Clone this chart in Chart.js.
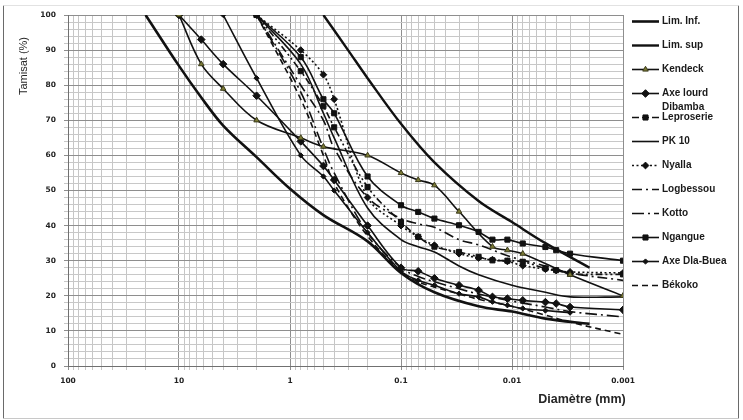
<!DOCTYPE html>
<html><head><meta charset="utf-8">
<script src="https://cdn.jsdelivr.net/npm/chart.js@4/dist/chart.umd.min.js"></script>
<style>html,body{margin:0;padding:0;background:#fff;}canvas{display:block}</style>
</head><body>
<canvas id="c" width="743" height="420"></canvas>
<script>
// ---- tick values ----
const xTickValues = [0.001,0.002,0.003,0.004,0.005,0.006,0.007,0.008,0.009,
  0.01,0.02,0.03,0.04,0.05,0.06,0.07,0.08,0.09,
  0.1,0.2,0.3,0.4,0.5,0.6,0.7,0.8,0.9,
  1,2,3,4,5,6,7,8,9,
  10,20,30,40,50,60,70,80,90,100];
const xLabelValues = [100,10,1,0.1,0.01,0.001];
const xLabelTexts = ['100','10','1','0.1','0.01','0.001'];
const yTickValues = [0,2,4,6,8,10,12,14,16,18,20,22,24,26,28,30,32,34,36,38,40,42,44,46,48,50,
  52,54,56,58,60,62,64,66,68,70,72,74,76,78,80,82,84,86,88,90,92,94,96,98,100];

// ---- series (diameter mm / % passing) ----
const limInfD = [20,10,6.3,4,2,1,0.5,0.2,0.1,0.05,0.02,0.01,0.005,0.002];
const limInfP = [100,85.5,76.5,68.5,59.5,50.5,43,35.5,26.5,21,17,15.5,13.5,12];

const limSupD = [0.5,0.3,0.2,0.1,0.05,0.02,0.01,0.005,0.002];
const limSupP = [100,90,82,69,58,47,41,35,28];

const kendeckD = [10,6.3,4,2,0.8,0.5,0.2,0.1,0.07,0.05,0.03,0.015,0.011,0.008,0.003,0.001];
const kendeckP = [100,86,79,70,65,62.5,60,55,53,51.5,44,34,33,32,26,20];

const dibambaD = [10,6.3,4,2,0.8,0.5,0.4,0.2,0.1,0.07,0.05,0.03,0.02,0.015,0.011,0.008,0.005,0.004,0.003,0.001];
const dibambaP = [100,93,86,77,64,57,53,40,28,27,25,23,21.6,19.7,19.2,18.7,18.2,17.8,16.8,16];

const leproD = [2,0.8,0.5,0.4,0.2,0.1,0.07,0.05,0.03,0.02,0.015,0.011,0.008,0.005,0.004,0.003,0.001];
const leproP = [100,84,74,68,51,41,36.8,34,32.5,31.1,30.1,30,29.7,27.8,27.3,26.3,26.1];

const pk10D = [2,0.8,0.5,0.4,0.2,0.1,0.07,0.05,0.03,0.02,0.01,0.005,0.003,0.001];
const pk10P = [100,86,72,65,45,36,34,32.5,28.5,26,23,21,19.7,19.7];

const nyallaD = [2,0.8,0.5,0.4,0.2,0.1,0.07,0.05,0.03,0.02,0.015,0.011,0.008,0.005,0.004,0.003,0.001];
const nyallaP = [100,90,83,76,48,40,36.8,34.4,32,30.8,30.3,29.8,28.6,27.6,27.2,26.8,26.5];

const logbessouD = [2,0.8,0.5,0.4,0.2,0.1,0.07,0.05,0.03,0.02,0.01,0.005,0.003,0.001];
const logbessouP = [100,80,70,62,48,42,40.5,39.5,36,34.5,31,28.5,26.5,24.4];

const kottoD = [2,0.8,0.5,0.4,0.2,0.1,0.07,0.05,0.03,0.02,0.01,0.005,0.003,0.001];
const kottoP = [100,78,62,55,38,28,25.5,24,22,20.5,18.5,16.8,15.5,14];

const ngangueD = [2,0.8,0.5,0.4,0.2,0.1,0.07,0.05,0.03,0.02,0.015,0.011,0.008,0.005,0.004,0.003,0.001];
const ngangueP = [100,88,76,72,54,45.8,43.9,42,40.1,38.2,36,36,34.9,33.9,33,32,30];

const axeDlaD = [4,2,0.8,0.5,0.4,0.2,0.1,0.07,0.05,0.03,0.02,0.015,0.011,0.008,0.005,0.003];
const axeDlaP = [100,82,60,54,50,38,27,24.4,23,20.6,19.7,18.3,17.3,16.4,15.8,15.2];

const bekokoD = [2,0.8,0.5,0.4,0.2,0.1,0.07,0.05,0.03,0.02,0.01,0.005,0.003,0.001];
const bekokoP = [100,76,60,52,37,27,24,22.5,20.5,19,17,14.5,12.5,9];

function pts(d, p){ return d.map((v,i)=>({x:v, y:p[i]})); }
const INK = '#111';
function ds(label, d, p, extra){
  return Object.assign({label, data: pts(d,p), borderColor: INK, backgroundColor: INK,
    pointBorderColor: INK, pointBackgroundColor: INK, borderWidth: 1.6, pointRadius: 0,
    pointBorderWidth: 1, fill: false, tension: 0.35}, extra||{});
}
const datasets = [
  ds('Lim. Inf.', limInfD, limInfP, {borderWidth: 2.6}),
  ds('Lim. sup', limSupD, limSupP, {borderWidth: 2.4}),
  ds('Kendeck', kendeckD, kendeckP, {pointStyle:'triangle', pointRadius:3.2, pointBackgroundColor:'#7b7a35', pointBorderColor:'#3a3a1a'}),
  ds('Axe lourd\nDibamba', dibambaD, dibambaP, {pointStyle:'rectRot', pointRadius:3.8}),
  ds('Leproserie', leproD, leproP, {pointStyle:'rect', pointRadius:3.6, borderDash:[7,3,2,3,2,3]}),
  ds('PK 10', pk10D, pk10P, {}),
  ds('Nyalla', nyallaD, nyallaP, {pointStyle:'rectRot', pointRadius:3.4, borderDash:[2,2.5]}),
  ds('Logbessou', logbessouD, logbessouP, {borderDash:[10,4,2,4]}),
  ds('Kotto', kottoD, kottoP, {borderDash:[12,4,2,4]}),
  ds('Ngangue', ngangueD, ngangueP, {pointStyle:'rect', pointRadius:3.6}),
  ds('Axe Dla-Buea', axeDlaD, axeDlaP, {pointStyle:'rectRot', pointRadius:2.6}),
  ds('Békoko', bekokoD, bekokoP, {borderDash:[6,4]})
];

function isDecade(v){ const l = Math.log10(v); return Math.abs(l - Math.round(l)) < 1e-9; }
function decadeText(v){
  for (let i=0;i<xLabelValues.length;i++){ if (Math.abs(Math.log10(v)-Math.log10(xLabelValues[i]))<1e-9) return xLabelTexts[i]; }
  return '';
}

const decor = {
  id: 'decor',
  beforeDraw(chart){
    const c = chart.ctx; c.save(); c.fillStyle='#fff'; c.fillRect(0,0,chart.width,chart.height); c.restore();
  },
  afterDraw(chart){
    const c = chart.ctx;
    c.save();
    // outer frame
    c.strokeStyle = '#6a6a6a'; c.lineWidth = 1;
    c.beginPath(); c.moveTo(3.5,5.5); c.lineTo(3.5,418.5); c.stroke();
    c.beginPath(); c.moveTo(738.5,5.5); c.lineTo(738.5,418.5); c.stroke();
    c.strokeStyle = '#c8c8c8';
    c.beginPath(); c.moveTo(3.5,418.5); c.lineTo(738.5,418.5); c.stroke();
    c.strokeStyle = '#e2e2e2';
    c.beginPath(); c.moveTo(3.5,5.5); c.lineTo(738.5,5.5); c.stroke();

    // axis titles
    c.fillStyle = '#262626';
    c.font = '11px "Liberation Sans", Arial, sans-serif';
    c.textAlign = 'center'; c.textBaseline = 'middle';
    c.save(); c.translate(24, 66); c.rotate(-Math.PI/2); c.fillText('Tamisat (%)', 0, 0); c.restore();
    c.font = 'bold 12.5px "Liberation Sans", Arial, sans-serif';
    c.fillText('Diamètre (mm)', 582, 400);

    // legend
    const x0 = 632, x1 = 659, tx = 662;
    chart.data.datasets.forEach((d, i) => {
      const y = Math.round(21 + 24*i) + 0.5;
      c.save();
      c.strokeStyle = INK; c.lineWidth = d.borderWidth;
      c.setLineDash(d.borderDash || []);
      c.beginPath(); c.moveTo(x0, y); c.lineTo(x1, y); c.stroke();
      c.setLineDash([]);
      if (d.pointRadius > 0){
        c.fillStyle = d.pointBackgroundColor; c.strokeStyle = d.pointBorderColor; c.lineWidth = 1;
        Chart.helpers.drawPoint(c, {pointStyle: d.pointStyle, radius: d.pointRadius, borderWidth: 1, rotation: 0}, (x0+x1)/2, y);
      }
      c.restore();
      c.fillStyle = '#1a1a1a';
      c.font = 'bold 10px "Liberation Sans", Arial, sans-serif';
      c.textAlign = 'left'; c.textBaseline = 'middle';
      d.label.split('\n').forEach((t, k) => c.fillText(t, tx, y + k*14));
    });
    c.restore();
  }
};

new Chart(document.getElementById('c'), {
  type: 'line',
  data: { datasets },
  plugins: [decor],
  options: {
    responsive: false, animation: false, devicePixelRatio: 1,
    layout: { padding: { left: 0, top: 15, right: 120, bottom: 0 } },
    plugins: { legend: { display: false }, tooltip: { enabled: false } },
    scales: {
      x: {
        type: 'logarithmic', reverse: true, min: 0.001, max: 100,
        afterBuildTicks(s){ s.ticks = xTickValues.map(v => ({value: v, major: isDecade(v)})); },
        afterFit(s){ s.height = 54; },
        ticks: { autoSkip: false, maxRotation: 0, minRotation: 0, padding: 7,
          color: '#222', font: { family: 'DejaVu Sans', weight: 'bold', size: 7.5 },
          callback: (v) => isDecade(v) ? decadeText(v) : '' },
        grid: { color: (ctx) => (ctx.tick && isDecade(ctx.tick.value)) ? '#8e8e8e' : '#c6c6c6', lineWidth: 1, tickLength: 4 },
        border: { color: '#707070', width: 1 }
      },
      y: {
        min: 0, max: 100,
        afterBuildTicks(s){ s.ticks = yTickValues.map(v => ({value: v})); },
        afterFit(s){ s.width = 68; },
        ticks: { autoSkip: false, padding: 8, color: '#222',
          font: { family: 'DejaVu Sans', weight: 'bold', size: 7.5 },
          callback: (v) => (v % 10 === 0) ? String(v) : '' },
        grid: { color: (ctx) => (ctx.tick && ctx.tick.value % 10 === 0) ? '#8e8e8e' : '#c8c8c8', lineWidth: 1, tickLength: 4 },
        border: { color: '#707070', width: 1 }
      }
    }
  }
});
</script>
</body></html>
